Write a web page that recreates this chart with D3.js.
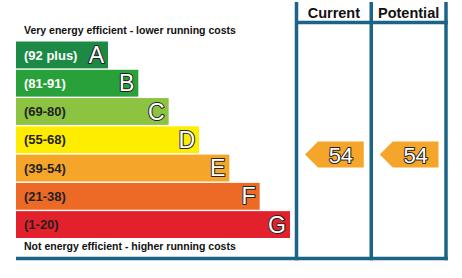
<!DOCTYPE html>
<html>
<head>
<meta charset="utf-8">
<script src="https://cdn.jsdelivr.net/npm/d3@7"></script>
<style>
  html, body { margin: 0; padding: 0; background: #fff; }
  svg { display: block; }
  text { font-family: "Liberation Sans", Arial, sans-serif; }
</style>
</head>
<body>
<div id="chart"></div>
<script>
// ---- data ----
const bands = ["A", "B", "C", "D", "E", "F", "G"];
const rangeLabels = ["(92 plus)", "(81-91)", "(69-80)", "(55-68)", "(39-54)", "(21-38)", "(1-20)"];
const bandMin = [92, 81, 69, 55, 39, 21, 1];
const bandMax = [100, 91, 80, 68, 54, 38, 20];
const bandColors = ["#1c8a44", "#29a13b", "#8cc341", "#ffed00", "#f5a62a", "#ec6a25", "#e3212c"];
const labelColors = ["#ffffff", "#ffffff", "#222222", "#222222", "#222222", "#222222", "#222222"];
const columns = ["Current", "Potential"];
const ratings = [54, 54];
const topCaption = "Very energy efficient - lower running costs";
const bottomCaption = "Not energy efficient - higher running costs";

// ---- layout ----
const W = 462, H = 278;
const frame = "#1b6487";
const svg = d3.select("#chart").append("svg").attr("width", W).attr("height", H);

const y = d3.scaleBand().domain(bands).range([41.5, 238]).paddingInner(0.05);
const wScale = d3.scaleLinear().domain([0, bands.length - 1]).range([92, 274]);
const x0 = 16;

// captions
svg.append("text").attr("x", 24).attr("y", 33.5)
  .attr("font-size", 10.5).attr("font-weight", "bold").attr("fill", "#111")
  .text(topCaption);
svg.append("text").attr("x", 24).attr("y", 249.5)
  .attr("font-size", 10.5).attr("font-weight", "bold").attr("fill", "#111")
  .text(bottomCaption);

// bars
const g = svg.append("g");
const rows = g.selectAll("g.band").data(bands).join("g").attr("class", "band");
rows.append("rect")
  .attr("x", x0)
  .attr("y", d => y(d))
  .attr("width", (d, i) => wScale(i))
  .attr("height", y.bandwidth())
  .attr("fill", (d, i) => bandColors[i]);
rows.append("text")
  .attr("x", 24)
  .attr("y", d => y(d) + y.bandwidth() / 2 + 4.7)
  .attr("font-size", 13).attr("font-weight", "bold")
  .attr("fill", (d, i) => labelColors[i])
  .text((d, i) => rangeLabels[i]);
rows.append("text")
  .attr("x", (d, i) => x0 + wScale(i) - 4)
  .attr("y", d => y(d) + y.bandwidth() / 2 + 8.2)
  .attr("text-anchor", "end")
  .attr("font-size", 23)
  .attr("fill", "#fff").attr("stroke", "#222").attr("stroke-width", 2)
  .attr("stroke-linejoin", "round")
  .attr("paint-order", "stroke")
  .text(d => d);

// frame columns
const colX = d3.scaleBand().domain(columns).range([296.5, 446]);
const lineTop = 2, lineBottom = 258.5, headerY = 22.5;
const fr = svg.append("g").attr("stroke", frame).attr("stroke-width", 3.5).attr("fill", "none");
[296.5, colX("Potential"), 446].forEach(xx => {
  fr.append("line").attr("x1", xx).attr("x2", xx).attr("y1", lineTop).attr("y2", lineBottom + 1.75);
});
fr.append("line").attr("x1", 296.5).attr("x2", 447.75).attr("y1", headerY).attr("y2", headerY);
fr.append("line").attr("x1", x0).attr("x2", 447.75).attr("y1", lineBottom).attr("y2", lineBottom);

svg.selectAll("text.col").data(columns).join("text").attr("class", "col")
  .attr("x", d => colX(d) + colX.bandwidth() / 2)
  .attr("y", 18)
  .attr("text-anchor", "middle")
  .attr("font-size", 14.5).attr("font-weight", "bold").attr("fill", "#111")
  .text(d => d);

// rating arrows
function bandIndex(v) { return bandMin.findIndex((m, i) => v >= m && v <= bandMax[i]); }
function ratingY(v) {
  const i = bandIndex(v);
  const frac = (bandMax[i] - v) / (bandMax[i] - bandMin[i] + 1);
  return y(bands[i]) + frac * y.bandwidth();
}
const arrH = 26, notch = 13;
const arrows = svg.selectAll("g.arrow").data(columns).join("g").attr("class", "arrow");
arrows.append("path")
  .attr("d", (d, i) => {
    const cy = ratingY(ratings[i]);
    const left = colX(d) + 8.5, right = colX(d) + colX.bandwidth() - 7.5;
    return `M${left},${cy} L${left + notch},${cy - arrH / 2} L${right},${cy - arrH / 2} L${right},${cy + arrH / 2} L${left + notch},${cy + arrH / 2} Z`;
  })
  .attr("fill", (d, i) => bandColors[bandIndex(ratings[i])]);
arrows.append("text")
  .attr("x", d => colX(d) + 8.5 + notch + (colX.bandwidth() - 16 - notch) / 2)
  .attr("y", (d, i) => ratingY(ratings[i]) + 8)
  .attr("text-anchor", "middle")
  .attr("font-size", 22)
  .attr("fill", "#fff").attr("stroke", "#222").attr("stroke-width", 2)
  .attr("stroke-linejoin", "round")
  .attr("paint-order", "stroke")
  .text((d, i) => ratings[i]);
</script>
</body>
</html>
